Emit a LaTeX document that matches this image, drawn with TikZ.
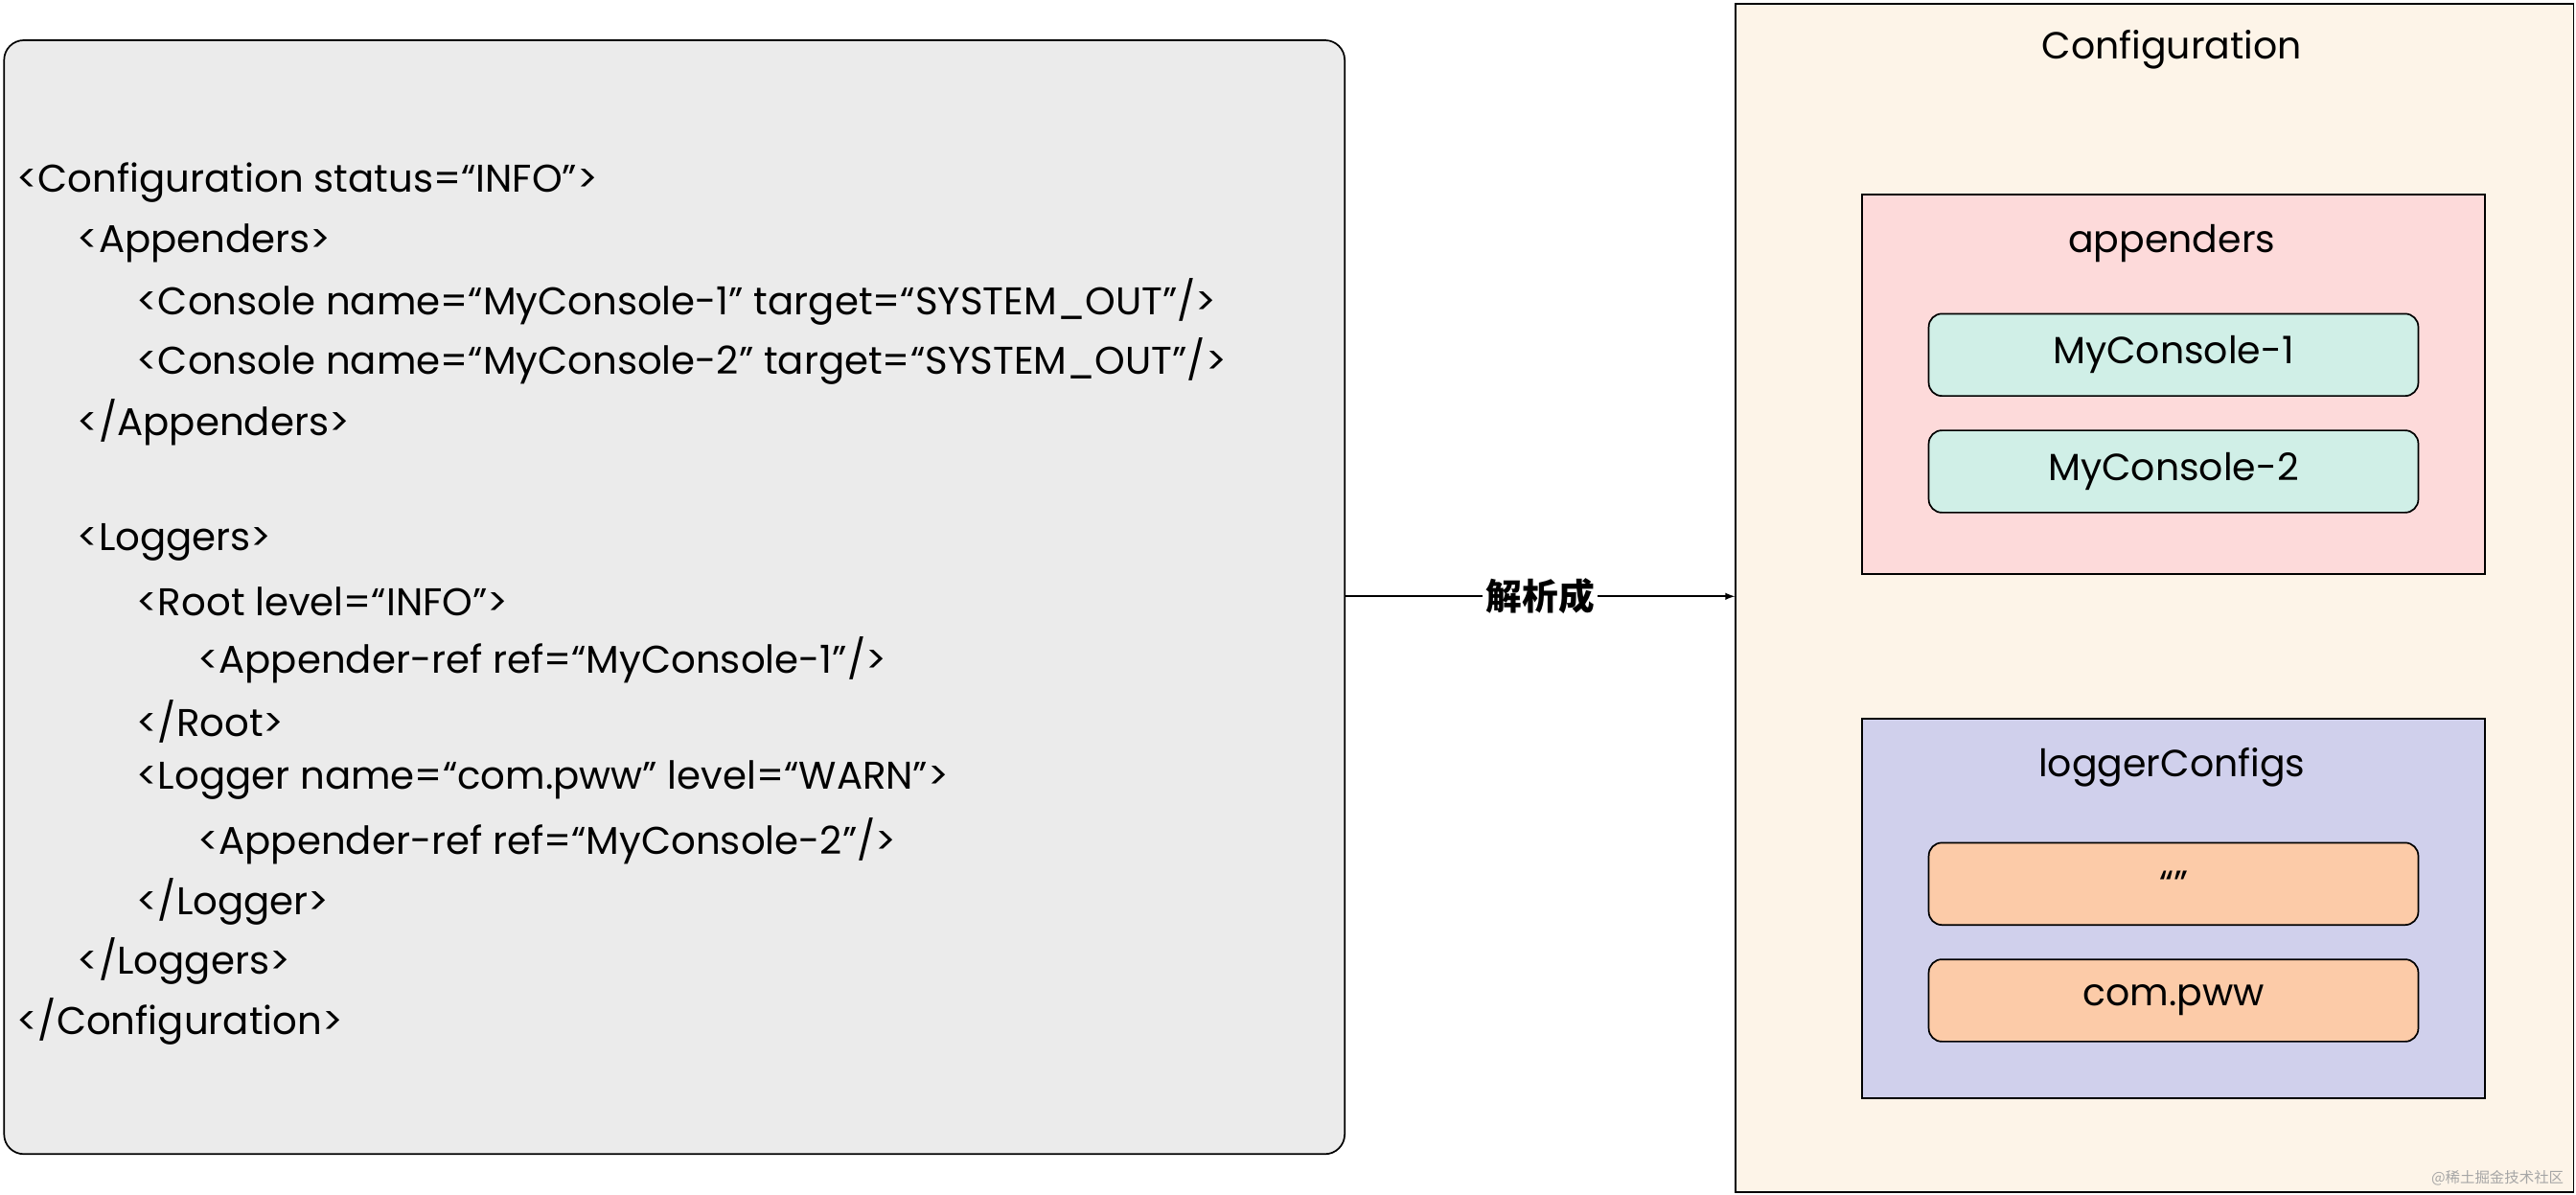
\documentclass[tikz,border=0pt]{standalone}
\usepackage{fontspec}
\setmainfont{Poppins}
\newfontfamily\cjk{Noto Sans CJK SC}
\begin{document}
\begin{tikzpicture}[x=1pt,y=-1pt,
  code/.style={anchor=west,inner sep=0pt,font=\fontsize{23.5}{26}\selectfont},
  item/.style={draw,rounded corners=8pt,line width=1pt,minimum width=298pt,minimum height=50pt,font=\fontsize{23}{26}\selectfont},
  title/.style={font=\fontsize{23}{26}\selectfont}]
\useasboundingbox (0,0) rectangle (1568,727);
\fill[white] (0,0) rectangle (1568,727);
\node[draw,line width=1pt,rounded corners=12pt,fill={rgb,255:red,235;green,235;blue,235},minimum width=816pt,minimum height=678pt,anchor=north west] (xml) at (2,24) {};
\node[draw,line width=1pt,fill={rgb,255:red,253;green,244;blue,232},minimum width=510pt,minimum height=723pt,anchor=north west] (cfg) at (1056,2) {};
\node[title] (cfgt) at (1322,30) {Configuration};
\node[draw,line width=1pt,fill={rgb,255:red,253;green,218;blue,218},minimum width=379pt,minimum height=231pt,anchor=north west] (app) at (1133,118) {};
\node[title] (appt) at (1322,148) {appenders};
\node[item,fill={rgb,255:red,208;green,239;blue,231}] (c1) at (1323,216) {MyConsole-1};
\node[item,fill={rgb,255:red,208;green,239;blue,231}] (c2) at (1323,287) {MyConsole-2};
\node[draw,line width=1pt,fill={rgb,255:red,208;green,208;blue,236},minimum width=379pt,minimum height=231pt,anchor=north west] (lc) at (1133,437) {};
\node[title] (lct) at (1322,467) {loggerConfigs};
\node[item,fill={rgb,255:red,252;green,203;blue,168}] (l1) at (1323,538) {“”};
\node[item,fill={rgb,255:red,252;green,203;blue,168}] (l2) at (1323,609) {com.pww};
\draw[line width=1pt,-latex] (xml.east |- 0,363) -- node[fill=white,inner sep=2pt,font=\cjk\bfseries\fontsize{22}{26}\selectfont] (lab) {解析成} (cfg.west |- 0,363);
\node[code] (t1) at (10,111) {<Configuration status=“INFO”>};
\node[code] (t2) at (47,148) {<Appenders>};
\node[code] (t3) at (83,184) {<Console name=“MyConsole-1” target=“SYSTEM\_OUT”/>};
\node[code] (t4) at (83,220) {<Console name=“MyConsole-2” target=“SYSTEM\_OUT”/>};
\node[code] (t5) at (47,257) {</Appenders>};
\node[code] (t6) at (47,330) {<Loggers>};
\node[code] (t7) at (83,366) {<Root level=“INFO”>};
\node[code] (t8) at (120,402) {<Appender-ref ref=“MyConsole-1”/>};
\node[code] (t9) at (83,439) {</Root>};
\node[code] (t10) at (83,475) {<Logger name=“com.pww” level=“WARN”>};
\node[code] (t11) at (120,512) {<Appender-ref ref=“MyConsole-2”/>};
\node[code] (t12) at (83,549) {</Logger>};
\node[code] (t13) at (47,585) {</Loggers>};
\node[code] (t14) at (10,622) {</Configuration>};
\node[anchor=east,text=gray!70,font=\cjk\fontsize{9}{10}\selectfont] (wm) at (1564,717) {@稀土掘金技术社区};
\end{tikzpicture}
\end{document}
